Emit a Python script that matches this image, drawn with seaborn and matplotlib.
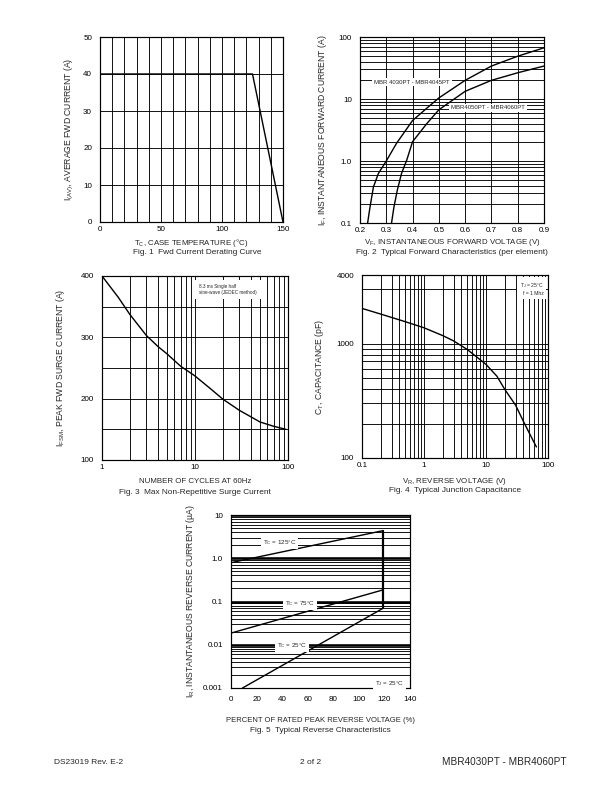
import numpy as np
import pandas as pd
import matplotlib
matplotlib.use("Agg")
import matplotlib.pyplot as plt
import seaborn as sns
from matplotlib.ticker import FixedLocator, NullFormatter

# Fig. 1 - derating curve
fig1_temp = [0, 125, 150]
fig1_current = [40, 40, 0]

# Fig. 2 - forward characteristics
fig2_vf_a = [0.229, 0.238, 0.251, 0.270, 0.300, 0.339, 0.400, 0.454, 0.500, 0.600, 0.700, 0.800, 0.900]
fig2_if_a = [0.1, 0.18, 0.38, 0.63, 1.0, 1.93, 4.5, 7.1, 10.4, 20, 34, 49, 67]
fig2_vf_b = [0.320, 0.329, 0.342, 0.358, 0.378, 0.400, 0.454, 0.500, 0.600, 0.700, 0.800, 0.900]
fig2_if_b = [0.1, 0.18, 0.34, 0.63, 1.04, 2.05, 4.0, 6.7, 13.3, 20, 26.5, 34]

# Fig. 3 - surge current
fig3_cycles = [1, 1.5, 2, 3, 4, 5, 7, 10, 15, 20, 30, 50, 70, 95]
fig3_ifsm = [400, 365, 337, 303, 285, 273, 253, 237, 215, 199, 181, 162, 155, 150]

# Fig. 4 - junction capacitance
fig4_vr = [0.1, 0.2, 0.3, 0.5, 1, 2, 3, 5, 7, 10, 15, 20, 30, 40, 50, 65]
fig4_ct = [2040, 1820, 1700, 1560, 1380, 1180, 1060, 890, 770, 660, 520, 400, 290, 210, 165, 125]

# Fig. 5 - reverse characteristics
fig5_pct = [0, 119]
fig5_ir_125 = [0.79, 4.35]
fig5_ir_75 = [0.0186, 0.186]
fig5_pct_25 = [9, 119]
fig5_ir_25 = [0.001, 0.070]
fig5_edge_pct = [119, 119]
fig5_edge_ir = [0.070, 4.35]

sns.set_theme(style="white")
plt.rcParams['font.family'] = ['Liberation Sans', 'DejaVu Sans']
plt.rcParams['mathtext.default'] = 'regular'
plt.rcParams['mathtext.fontset'] = 'custom'
plt.rcParams['mathtext.rm'] = 'Liberation Sans'

W, H = 612, 792
fig = plt.figure(figsize=(W / 72, H / 72), dpi=72)
fig.patch.set_facecolor('white')

XL, YL, CAP, TK = 7.9, 8.6, 8.2, 8


def box(l, t, r, b):
    return [l / W, 1 - b / H, (r - l) / W, (b - t) / H]


def style(ax, ylab_x, xlab_y, xpad=4):
    for s in ax.spines.values():
        s.set_color('black')
        s.set_linewidth(1.2)
    ax.tick_params(which='both', length=0, labelsize=TK, colors='black')
    ax.tick_params(axis='x', pad=xpad)
    ax.tick_params(axis='y', pad=8)
    ax.set_facecolor('white')
    ax.yaxis.set_label_coords(ylab_x, 0.5)
    ax.xaxis.set_label_coords(0.5, xlab_y)


def log_minor(axis, lo, hi):
    vals = [m * 10.0 ** e for e in range(lo, hi) for m in range(2, 10)]
    axis.set_minor_locator(FixedLocator(vals))
    axis.set_minor_formatter(NullFormatter())


line_kw = dict(color='black', linewidth=1.4, estimator=None, sort=False, legend=False)
grid_kw = dict(color='black', linewidth=0.9)
lbl_box = dict(boxstyle='square,pad=0.3', facecolor='white', edgecolor='none')

# ---------------- Fig. 1
ax1 = fig.add_axes(box(100, 37, 283, 222))
sns.lineplot(x=fig1_temp, y=fig1_current, ax=ax1, **line_kw)
ax1.set_xlim(0, 150)
ax1.set_ylim(0, 50)
ax1.set_xticks([0, 50, 100, 150])
ax1.set_xticks(np.arange(0, 151, 10), minor=True)
ax1.set_yticks(np.arange(0, 51, 10))
ax1.grid(True, which='both', **grid_kw)
ax1.set_xlabel('T$_C$, CASE TEMPERATURE (°C)', fontsize=XL)
ax1.set_ylabel('I$_{(AV)}$, AVERAGE FWD CURRENT (A)', fontsize=YL)
style(ax1, -0.131, -0.08)
fig.text(197 / W, 1 - 252 / H, 'Fig. 1  Fwd Current Derating Curve', ha='center', va='center', fontsize=CAP)

# ---------------- Fig. 2
ax2 = fig.add_axes(box(360, 37, 544, 223))
ax2.set_yscale('log')
sns.lineplot(x=fig2_vf_a, y=fig2_if_a, ax=ax2, **line_kw)
sns.lineplot(x=fig2_vf_b, y=fig2_if_b, ax=ax2, **line_kw)
ax2.set_xlim(0.2, 0.9)
ax2.set_ylim(0.1, 100)
ax2.set_xticks(np.round(np.arange(0.2, 0.91, 0.1), 1))
ax2.set_xticklabels(['0.2', '0.3', '0.4', '0.5', '0.6', '0.7', '0.8', '0.9'])
ax2.set_yticks([0.1, 1, 10, 100])
ax2.set_yticklabels(['0.1', '1.0', '10', '100'])
log_minor(ax2.yaxis, -1, 2)
ax2.grid(True, which='both', **grid_kw)
ax2.text(0.398, 18.8, 'MBR 4030PT - MBR4045PT', fontsize=6.0, ha='center', va='center', bbox=lbl_box)
ax2.text(0.687, 7.2, 'MBR4050PT - MBR4060PT', fontsize=6.0, ha='center', va='center', bbox=lbl_box)
ax2.set_xlabel('V$_F$, INSTANTANEOUS FORWARD VOLTAGE (V)', fontsize=XL)
ax2.set_ylabel('I$_F$, INSTANTANEOUS FORWARD CURRENT (A)', fontsize=YL)
style(ax2, -0.168, -0.075)
fig.text(452 / W, 1 - 252 / H, 'Fig. 2  Typical Forward Characteristics (per element)', ha='center', va='center', fontsize=CAP)

# ---------------- Fig. 3
ax3 = fig.add_axes(box(102, 276, 288, 460))
ax3.set_xscale('log')
sns.lineplot(x=fig3_cycles, y=fig3_ifsm, ax=ax3, **line_kw)
ax3.set_xlim(1, 100)
ax3.set_ylim(100, 400)
ax3.set_xticks([1, 10, 100])
ax3.set_xticklabels(['1', '10', '100'])
log_minor(ax3.xaxis, 0, 2)
ax3.set_yticks([100, 200, 300, 400])
ax3.set_yticks([150, 250, 350], minor=True)
ax3.grid(True, which='both', **grid_kw)
ax3.text(0.52, 0.955, '8.3 ms Single half\nsine-wave (JEDEC method)', transform=ax3.transAxes,
         fontsize=4.6, ha='left', va='top', linespacing=1.15,
         bbox=dict(boxstyle='square,pad=0.9', facecolor='white', edgecolor='none'))
ax3.set_xlabel('NUMBER OF CYCLES AT 60Hz', fontsize=XL)
ax3.set_ylabel('I$_{FSM}$, PEAK FWD SURGE CURRENT (A)', fontsize=YL)
style(ax3, -0.188, -0.098)
fig.text(195 / W, 1 - 492 / H, 'Fig. 3  Max Non-Repetitive Surge Current', ha='center', va='center', fontsize=CAP)

# ---------------- Fig. 4
ax4 = fig.add_axes(box(362, 275, 548, 458))
ax4.set_xscale('log')
ax4.set_yscale('log')
sns.lineplot(x=fig4_vr, y=fig4_ct, ax=ax4, **line_kw)
ax4.set_xlim(0.1, 100)
ax4.set_ylim(100, 4000)
ax4.set_xticks([0.1, 1, 10, 100])
ax4.set_xticklabels(['0.1', '1', '10', '100'])
log_minor(ax4.xaxis, -1, 2)
ax4.set_yticks([100, 1000, 4000])
ax4.set_yticklabels(['100', '1000', '4000'])
ax4.yaxis.set_minor_locator(FixedLocator([200, 300, 400, 500, 600, 700, 800, 900, 3000]))
ax4.yaxis.set_minor_formatter(NullFormatter())
ax4.grid(True, which='both', **grid_kw)
ax4.text(0.975, 0.965, 'T$_J$ = 25°C\nf = 1 Mhz', transform=ax4.transAxes,
         fontsize=5.0, ha='right', va='top', linespacing=1.2,
         bbox=dict(boxstyle='square,pad=0.6', facecolor='white', edgecolor='none'))
ax4.set_xlabel('V$_R$, REVERSE VOLTAGE (V)', fontsize=XL)
ax4.set_ylabel('C$_T$, CAPACITANCE (pF)', fontsize=YL)
style(ax4, -0.194, -0.098)
fig.text(455 / W, 1 - 491 / H, 'Fig. 4  Typical Junction Capacitance', ha='center', va='center', fontsize=CAP)

# ---------------- Fig. 5
ax5 = fig.add_axes(box(231, 515, 410, 688))
ax5.set_yscale('log')
sns.lineplot(x=fig5_pct, y=fig5_ir_125, ax=ax5, **line_kw)
sns.lineplot(x=fig5_pct, y=fig5_ir_75, ax=ax5, **line_kw)
sns.lineplot(x=fig5_pct_25, y=fig5_ir_25, ax=ax5, **line_kw)
sns.lineplot(x=fig5_edge_pct, y=fig5_edge_ir, ax=ax5, color='black', linewidth=2.2,
             estimator=None, sort=False, legend=False)
ax5.set_xlim(0, 140)
ax5.set_ylim(0.001, 10)
ax5.set_xticks(np.arange(0, 141, 20))
ax5.set_yticks([0.001, 0.01, 0.1, 1, 10])
ax5.set_yticklabels(['0.001', '0.01', '0.1', '1.0', '10'])
log_minor(ax5.yaxis, -3, 1)
ax5.yaxis.grid(True, which='minor', **grid_kw)
ax5.yaxis.grid(True, which='major', color='black', linewidth=2.6)
ax5.xaxis.grid(False)
ax5.text(38, 2.34, 'T$_C$ = 125°C', fontsize=6.2, ha='center', va='center', bbox=lbl_box)
ax5.text(54, 0.088, 'T$_C$ = 75°C', fontsize=6.2, ha='center', va='center', bbox=lbl_box)
ax5.text(48, 0.0097, 'T$_C$ = 25°C', fontsize=6.2, ha='center', va='center', bbox=lbl_box)
ax5.text(124, 0.00128, 'T$_J$ = 25°C', fontsize=6.2, ha='center', va='center', bbox=lbl_box)
ax5.set_xlabel('PERCENT OF RATED PEAK REVERSE VOLTAGE (%)', fontsize=7.6)
ax5.set_ylabel('I$_R$, INSTANTANEOUS REVERSE CURRENT (µA)', fontsize=YL)
style(ax5, -0.191, -0.168, xpad=8)
ax5.get_ygridlines()[0].set_visible(False)
fig.text(320 / W, 1 - 731 / H, 'Fig. 5  Typical Reverse Characteristics', ha='center', va='center', fontsize=CAP)

# ---------------- footer
fig.text(54 / W, 1 - 762 / H, 'DS23019 Rev. E-2', ha='left', va='center', fontsize=8.4)
fig.text(311 / W, 1 - 762 / H, '2 of 2', ha='center', va='center', fontsize=8.4)
fig.text(567 / W, 1 - 762 / H, 'MBR4030PT - MBR4060PT', ha='right', va='center', fontsize=10)

fig.savefig('out.png', dpi=72, facecolor='white')
